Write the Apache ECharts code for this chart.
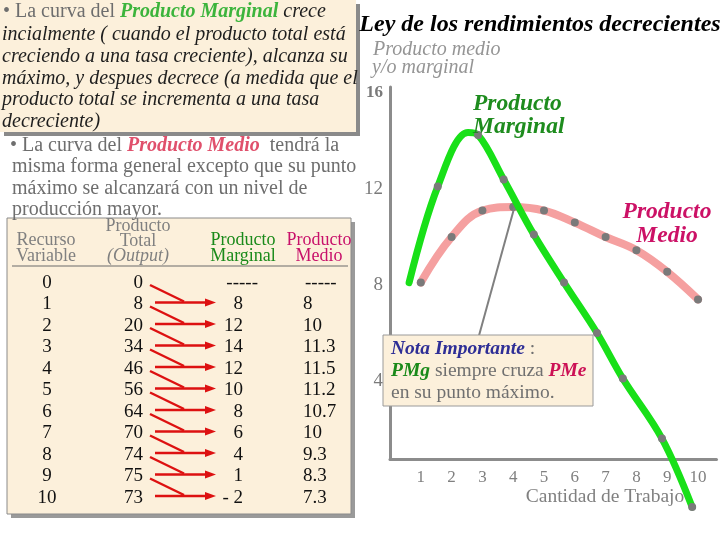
<!DOCTYPE html>
<html>
<head>
<meta charset="utf-8">
<script src="https://cdn.jsdelivr.net/npm/echarts@6/dist/echarts.min.js"></script>
<style>
  html, body { margin: 0; padding: 0; background: #fff; }
  #chart { width: 720px; height: 540px; }
</style>
</head>
<body>
<div id="chart"></div>
<script>
// table values
const labor = ['0', '1', '2', '3', '4', '5', '6', '7', '8', '9', '10'];
const totalProduct = ['0', '8', '20', '34', '46', '56', '64', '70', '74', '75', '73'];
const marginalProduct = ['-----', '8', '12', '14', '12', '10', '8', '6', '4', '1', '- 2'];
const averageProduct = ['-----', '8', '10', '11.3', '11.5', '11.2', '10.7', '10', '9.3', '8.3', '7.3'];

// curves as drawn on the slide
const pmeX = [1, 2, 3, 4, 5, 6, 7, 8, 9, 10];
const pmeY = [8.1, 10, 11.1, 11.25, 11.1, 10.6, 10, 9.45, 8.55, 7.4];
const pmgX = [0.62, 1.55, 2.53, 2.86, 3.69, 4.67, 5.65, 6.72, 7.56, 8.83, 9.81];
const pmgY = [8.1, 12.1, 14.35, 14.25, 12.4, 10.1, 8.1, 6.0, 4.1, 1.6, -1.25];
const pmgNoDot = [0, 2];
const noteLine = [[4.03, 11.2], [2.89, 5.9]];

const xTicks = [1, 2, 3, 4, 5, 6, 7, 8, 9, 10];
const yTicks = [4, 8, 12, 16];

const F = '"Liberation Serif", "DejaVu Serif", serif';
const PAPER = '#fcf0db';
const GREY = '#7a7a7a';

const RICH = {
  g: { font: `20px ${F}`, fill: '#6e6e6e' },
  i: { font: `italic 20px ${F}`, fill: '#1e1e1e' },
  pmg: { font: `italic bold 20px ${F}`, fill: '#3cb43c' },
  r: { font: `20px ${F}`, fill: '#6e6e6e' },
  pme: { font: `italic bold 20px ${F}`, fill: '#e0506c' },
  nb: { font: `italic bold 19.5px ${F}`, fill: '#2e2e96' },
  ng: { font: `italic bold 19.5px ${F}`, fill: '#1a8a1a' },
  nr: { font: `italic bold 19.5px ${F}`, fill: '#cc1155' },
  n: { font: `19.5px ${F}`, fill: '#707070' }
};

function line(x, y, segs, align) {
  return {
    type: 'text', x: x, y: y, z: 50,
    style: {
      text: segs.map(([t, k]) => `{${k}|${t}}`).join(''),
      rich: RICH,
      textAlign: align || 'left',
      textVerticalAlign: 'middle'
    }
  };
}

function txt(x, y, text, font, fill, align, z) {
  return {
    type: 'text', x: x, y: y, z: z || 50,
    style: { text: text, font: font, fill: fill, textAlign: align || 'left', textVerticalAlign: 'middle' }
  };
}

const graphics = [];

// top explanation box
graphics.push({ type: 'rect', z: 10, shape: { x: 4, y: 4, width: 356, height: 132 }, style: { fill: '#8a8a8a' } });
graphics.push({ type: 'rect', z: 11, shape: { x: 0, y: 0, width: 356, height: 132 }, style: { fill: PAPER } });
graphics.push(line(3, 12, [['• La curva del ', 'g'], ['Producto Marginal', 'pmg'], [' crece', 'i']]));
['incialmente ( cuando el producto total está',
 'creciendo a una tasa creciente), alcanza su',
 'máximo, y despues decrece (a medida que el',
 'producto total se incrementa a una tasa',
 'decreciente)'].forEach((t, k) => graphics.push(line(2, 35 + k * 21.7, [[t, 'i']])));

// second paragraph
graphics.push(line(10, 146, [['• La curva del ', 'r'], ['Producto Medio', 'pme'], ['  tendrá la', 'r']]));
['misma forma general excepto que su punto',
 'máximo se alcanzará con un nivel de',
 'producción mayor.'].forEach((t, k) => graphics.push(line(12, 167 + k * 21.5, [[t, 'r']])));

// table box
graphics.push({ type: 'rect', z: 10, shape: { x: 11, y: 222, width: 344, height: 296 }, style: { fill: '#9a9a9a' } });
graphics.push({ type: 'rect', z: 11, shape: { x: 7, y: 218, width: 344, height: 296 }, style: { fill: PAPER, stroke: '#8a8a8a', lineWidth: 1 } });
graphics.push({ type: 'line', z: 12, shape: { x1: 12, y1: 266, x2: 348, y2: 266 }, style: { stroke: '#6a6a6a', lineWidth: 1 } });

const hf = `18px ${F}`;
graphics.push(txt(46, 240, 'Recurso', hf, '#808080', 'center'));
graphics.push(txt(46, 256, 'Variable', hf, '#808080', 'center'));
graphics.push(txt(138, 226, 'Producto', hf, '#808080', 'center'));
graphics.push(txt(138, 241, 'Total', hf, '#808080', 'center'));
graphics.push(txt(138, 256, '(Output)', `italic ${hf}`, '#808080', 'center'));
graphics.push(txt(243, 240, 'Producto', hf, '#1a8a1a', 'center'));
graphics.push(txt(243, 256, 'Marginal', hf, '#1a8a1a', 'center'));
graphics.push(txt(319, 240, 'Producto', hf, '#c8106a', 'center'));
graphics.push(txt(319, 256, 'Medio', hf, '#c8106a', 'center'));

const rf = `19px ${F}`;
const rowY = labor.map((_, i) => 283 + i * 21.5);
labor.forEach((v, i) => {
  const y = rowY[i];
  graphics.push(txt(47, y, v, rf, '#111', 'center'));
  graphics.push(txt(143, y, totalProduct[i], rf, '#111', 'right'));
  const mp = marginalProduct[i];
  graphics.push(txt(mp === '-----' ? 258 : 243, y, mp, rf, '#111', 'right'));
  graphics.push(txt(mp === '-----' ? 305 : 303, y, averageProduct[i], rf, '#111', 'left'));
  if (i > 0) {
    const ay = y - 2;
    graphics.push({ type: 'line', z: 40, shape: { x1: 155, y1: ay, x2: 208, y2: ay }, style: { stroke: '#dd1111', lineWidth: 2.5 } });
    graphics.push({ type: 'polygon', z: 40, shape: { points: [[205, ay - 4], [216, ay], [205, ay + 4]] }, style: { fill: '#dd1111' } });
    graphics.push({ type: 'line', z: 40, shape: { x1: 150, y1: rowY[i - 1] + 2, x2: 184, y2: ay - 1 }, style: { stroke: '#dd1111', lineWidth: 2.5 } });
  }
});

// chart texts
graphics.push(txt(540, 25, 'Ley de los rendimientos decrecientes', `italic bold 24px ${F}`, '#000', 'center'));
graphics.push(txt(373, 50, 'Producto medio', `italic 20px ${F}`, '#959595', 'left'));
graphics.push(txt(372, 68, 'y/o marginal', `italic 20px ${F}`, '#959595', 'left'));
graphics.push(txt(473, 104, 'Producto', `italic bold 23.5px ${F}`, '#1e8c1e', 'left'));
graphics.push(txt(473, 127, 'Marginal', `italic bold 23.5px ${F}`, '#1e8c1e', 'left'));
graphics.push(txt(667, 212, 'Producto', `italic bold 23.5px ${F}`, '#cc1166', 'center'));
graphics.push(txt(667, 236, 'Medio', `italic bold 23.5px ${F}`, '#cc1166', 'center'));
graphics.push(txt(605, 497, 'Cantidad de Trabajo', `19.5px ${F}`, '#808080', 'center'));

// note box
graphics.push({ type: 'rect', z: 100, shape: { x: 383, y: 335, width: 210, height: 71 }, style: { fill: PAPER, stroke: '#9a9a9a', lineWidth: 1 } });
const nl = (x, y, segs) => Object.assign(line(x, y, segs), { z: 101 });
graphics.push(nl(391, 349, [['Nota Importante', 'nb'], [' :', 'n']]));
graphics.push(nl(391, 371, [['PMg', 'ng'], [' siempre cruza ', 'n'], ['PMe', 'nr']]));
graphics.push(nl(391, 393, [['en su punto máximo.', 'n']]));

const chart = echarts.init(document.getElementById('chart'));
chart.setOption({
  animation: false,
  grid: { left: 390, right: 3.5, top: 87, bottom: 81, outerBoundsMode: 'none' },
  xAxis: {
    type: 'value', min: 0, max: 10.6,
    axisLine: { show: true, onZero: false, lineStyle: { color: '#8c8c8c', width: 3 } },
    axisTick: { show: false },
    splitLine: { show: false },
    axisLabel: { customValues: xTicks, color: '#808080', fontSize: 17, fontFamily: F, margin: 10 }
  },
  yAxis: {
    type: 'value', min: 0.75, max: 16.25,
    axisLine: { show: true, onZero: false, lineStyle: { color: '#8c8c8c', width: 3 } },
    axisTick: { show: false },
    splitLine: { show: false },
    axisLabel: {
      customValues: yTicks, color: '#7a7a7a', fontSize: 19, fontFamily: F, margin: 7,
      formatter: (v) => (v === 16 ? '{b|16}' : String(v)),
      rich: { b: { fontWeight: 'bold', fontSize: 17, fontFamily: F, color: '#7a7a7a' } }
    }
  },
  series: [
    {
      name: 'Producto Medio',
      type: 'line',
      z: 2,
      smooth: 0.4,
      data: pmeX.map((x, i) => [x, pmeY[i]]),
      symbol: 'circle',
      symbolSize: 8,
      itemStyle: { color: GREY },
      lineStyle: { color: '#f5a0a0', width: 8, cap: 'round' },
      emphasis: { disabled: true },
      markLine: {
        silent: true,
        symbol: ['none', 'none'],
        label: { show: false },
        lineStyle: { color: '#808080', width: 2, type: 'solid' },
        data: [[{ coord: noteLine[0] }, { coord: noteLine[1] }]]
      }
    },
    {
      name: 'Producto Marginal',
      type: 'line',
      z: 3,
      smooth: 0.35,
      clip: false,
      data: pmgX.map((x, i) => [x, pmgY[i]]),
      symbol: 'circle',
      symbolSize: (val, p) => (pmgNoDot.includes(p.dataIndex) ? 0 : 8),
      itemStyle: { color: GREY },
      lineStyle: { color: '#18e018', width: 7, cap: 'round' },
      emphasis: { disabled: true }
    }
  ],
  graphic: graphics
});
</script>
</body>
</html>
